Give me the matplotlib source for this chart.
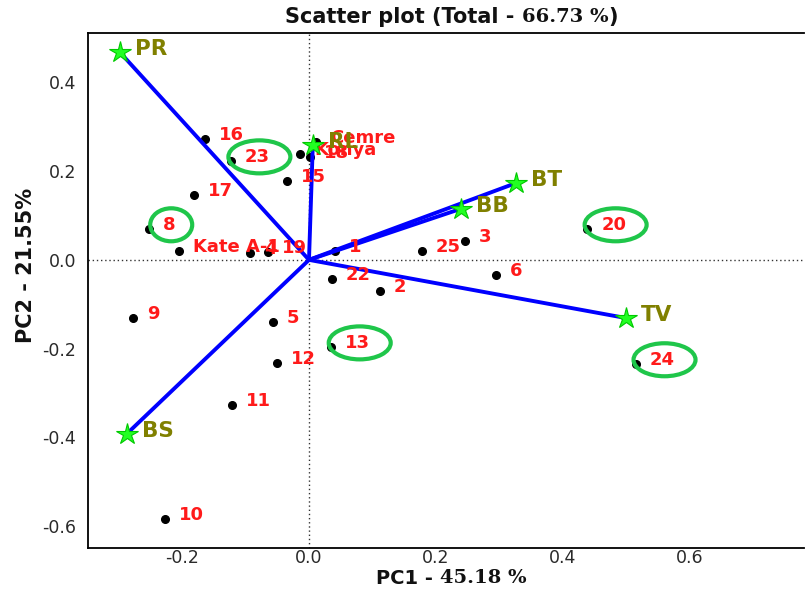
import matplotlib
matplotlib.use("Agg")
import matplotlib.pyplot as plt
from matplotlib.patches import Ellipse
from matplotlib.transforms import IdentityTransform

# ---- data ----
obs_labels = ["16", "23", "17", "8", "Kate A-1", "4", "19", "15", "Konya", "18", "Cemre",
              "1", "22", "2", "25", "3", "6", "20", "24", "9", "5", "12", "13", "11", "10"]
obs_pc1 = [-0.164, -0.123, -0.181, -0.252, -0.205, -0.093, -0.065, -0.035, -0.014, 0.002, 0.011,
           0.041, 0.036, 0.112, 0.178, 0.246, 0.294, 0.438, 0.515, -0.277, -0.057, -0.050, 0.035, -0.121, -0.227]
obs_pc2 = [0.273, 0.223, 0.146, 0.070, 0.020, 0.016, 0.018, 0.178, 0.239, 0.232, 0.266,
           0.020, -0.043, -0.070, 0.020, 0.043, -0.034, 0.070, -0.234, -0.131, -0.140, -0.232, -0.196, -0.327, -0.583]
highlighted = ["23", "8", "20", "13", "24"]

var_labels = ["PR", "BS", "BT", "BB", "TV", "RL"]
var_pc1 = [-0.298, -0.287, 0.326, 0.239, 0.499, 0.006]
var_pc2 = [0.468, -0.392, 0.173, 0.115, -0.131, 0.259]

xticks = [-0.2, 0.0, 0.2, 0.4, 0.6]
yticks = [0.4, 0.2, 0.0, -0.2, -0.4, -0.6]
title_parts = ["Scatter plot (Total - ", "66.73 %", ")"]
xlab_parts = ["PC1 - ", "45.18 %"]
ylab_txt = "PC2 - 21.55%"

# ---- figure ----
W, H, DPI = 805, 592, 100
fig = plt.figure(figsize=(W / DPI, H / DPI), dpi=DPI)
ax = fig.add_axes([88 / W, 1 - 548 / H, (804 - 88) / W, (548 - 33) / H])
ax.set_xlim(-0.348, 0.7795)
ax.set_ylim(-0.649, 0.511)

sans = "DejaVu Sans"
serif = "DejaVu Serif"

for s in ["top", "left", "bottom"]:
    ax.spines[s].set_linewidth(1.3)
    ax.spines[s].set_color("black")
ax.spines["right"].set_visible(False)

ax.set_xticks(xticks)
ax.set_xticklabels([f"{v:.1f}" for v in xticks])
ax.set_yticks(yticks)
ax.set_yticklabels([f"{v:.1f}" for v in yticks])
ax.tick_params(axis="both", length=0, labelsize=12.5, colors="#2a2a2a")
ax.tick_params(axis="x", pad=1)
ax.tick_params(axis="y", pad=8.5)
for lab in ax.get_xticklabels() + ax.get_yticklabels():
    lab.set_fontfamily(sans)

ax.axhline(0, color="#333333", lw=1, ls=(0, (1, 2)), zorder=1)
ax.axvline(0, color="#333333", lw=1, ls=(0, (1, 2)), zorder=1)

# observations
ax.plot(obs_pc1, obs_pc2, "o", color="black", ms=5.5, zorder=3)
dx, dy = 14, 4
lab_fs = 13
for lab, x, y in zip(obs_labels, obs_pc1, obs_pc2):
    ax.annotate(lab, (x, y), xytext=(dx, dy), textcoords="offset pixels",
                ha="left", va="center", color="#ff1a1a", fontsize=lab_fs,
                fontweight="bold", fontfamily=sans, zorder=5)

# vectors
for lab, x, y in zip(var_labels, var_pc1, var_pc2):
    ax.plot([0, x], [0, y], color="#0000ff", lw=2.8, zorder=4, solid_capstyle="butt")
ax.plot(var_pc1, var_pc2, "*", color="#22ff22", mec="#00c800", mew=0.8, ms=16, zorder=6, lw=0)
for lab, x, y in zip(var_labels, var_pc1, var_pc2):
    ax.annotate(lab, (x, y), xytext=(15, 3), textcoords="offset pixels",
                ha="left", va="center", color="#808000", fontsize=15.5,
                fontweight="bold", fontfamily=sans, zorder=5)

# highlight ellipses around selected labels
char_w = 12.5
for lab, x, y in zip(obs_labels, obs_pc1, obs_pc2):
    if lab in highlighted:
        px, py = ax.transData.transform((x, y))
        n = len(lab)
        cx = px + dx + n * char_w / 2 + 2
        cy = py + dy
        e = Ellipse((cx, cy), 22 + 20 * n, 33, transform=IdentityTransform(),
                    fill=False, ec="#1fc64a", lw=3, zorder=7, clip_on=False)
        fig.add_artist(e)

# titles built from pieces laid left to right
renderer = fig.canvas.get_renderer()


def chain(parts, fonts, sizes, x0_px, yc_px):
    x = x0_px
    for txt, fam, fs in zip(parts, fonts, sizes):
        t = fig.text(x / W, 1 - yc_px / H, txt, ha="left", va="center", fontsize=fs,
                     fontweight="bold", fontfamily=fam, color="#111111")
        bb = t.get_window_extent(renderer)
        x = bb.x1


chain(title_parts, [sans, serif, sans], [15, 14, 15], 285, 17)
chain(xlab_parts, [sans, serif], [14, 14], 376, 578)

fig.text(26 / W, 1 - 265 / H, ylab_txt, ha="center", va="center", rotation=90,
         fontsize=15, fontweight="bold", fontfamily=sans, color="#111111")

fig.savefig("out.png", dpi=DPI)
